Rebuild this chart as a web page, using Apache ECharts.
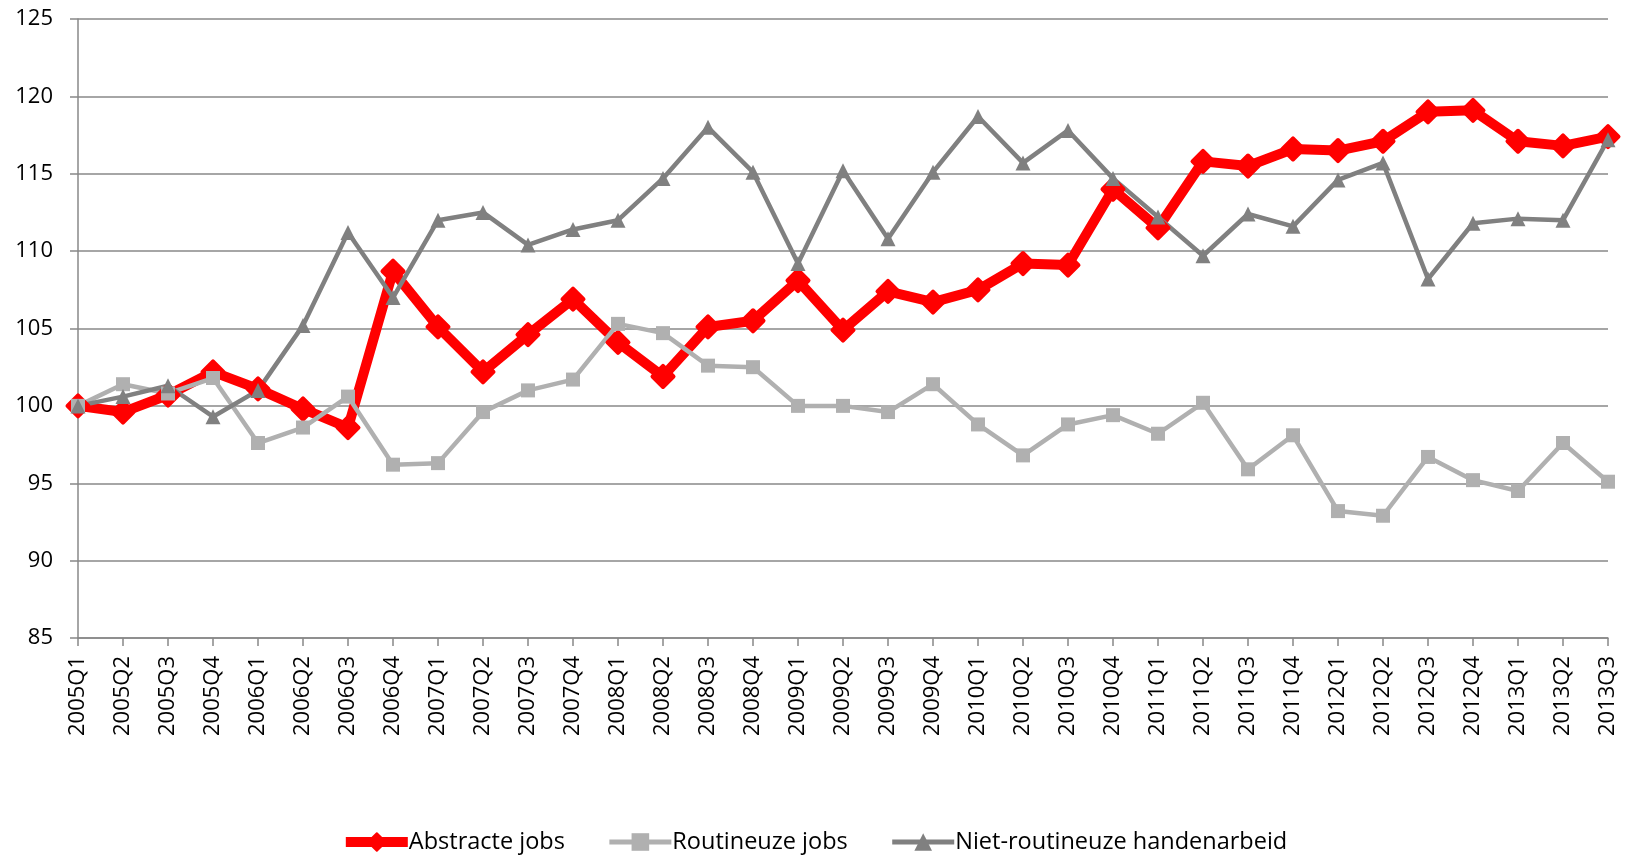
<!DOCTYPE html>
<html>
<head>
<meta charset="utf-8">
<title>Banen naar type</title>
<script src="https://cdn.jsdelivr.net/npm/echarts@6/dist/echarts.min.js"></script>
<style>
html, body { margin: 0; padding: 0; background: #fff; }
#main { width: 1628px; height: 856px; }
</style>
</head>
<body>
<div id="main"></div>
<script>
// kwartalen
var quarters = ['2005Q1','2005Q2','2005Q3','2005Q4','2006Q1','2006Q2','2006Q3','2006Q4',
  '2007Q1','2007Q2','2007Q3','2007Q4','2008Q1','2008Q2','2008Q3','2008Q4',
  '2009Q1','2009Q2','2009Q3','2009Q4','2010Q1','2010Q2','2010Q3','2010Q4',
  '2011Q1','2011Q2','2011Q3','2011Q4','2012Q1','2012Q2','2012Q3','2012Q4',
  '2013Q1','2013Q2','2013Q3'];

var abstracteJobs = [100, 99.6, 100.7, 102.2, 101.1, 99.8, 98.6, 108.7,
  105.1, 102.2, 104.6, 106.9, 104.1, 101.9, 105.1, 105.5,
  108.1, 104.9, 107.4, 106.7, 107.5, 109.2, 109.1, 114.0,
  111.5, 115.8, 115.5, 116.6, 116.5, 117.1, 119.0, 119.1,
  117.1, 116.8, 117.4];

var routineuzeJobs = [100, 101.4, 100.8, 101.8, 97.6, 98.6, 100.6, 96.2,
  96.3, 99.6, 101.0, 101.7, 105.3, 104.7, 102.6, 102.5,
  100.0, 100.0, 99.6, 101.4, 98.8, 96.8, 98.8, 99.4,
  98.2, 100.2, 95.9, 98.1, 93.2, 92.9, 96.7, 95.2,
  94.5, 97.6, 95.1];

var nietRoutineuze = [100, 100.6, 101.3, 99.3, 101.0, 105.2, 111.2, 107.0,
  112.0, 112.5, 110.4, 111.4, 112.0, 114.7, 118.0, 115.1,
  109.2, 115.2, 110.8, 115.1, 118.7, 115.7, 117.8, 114.7,
  112.2, 109.7, 112.4, 111.6, 114.6, 115.7, 108.2, 111.8,
  112.1, 112.0, 117.2];

var yTicks = { min: 85, max: 125, step: 5 };

var font = '"Open Sans", "DejaVu Sans", sans-serif';
var gridColor = '#888888';

var chart = echarts.init(document.getElementById('main'));
chart.setOption({
  animation: false,
  textStyle: { fontFamily: font },
  grid: { left: 78, right: 20, top: 19, bottom: 218, containLabel: false },
  legend: {
    top: 825,
    left: 'center',
    itemWidth: 62,
    itemHeight: 22,
    itemGap: 42,
    textStyle: { fontSize: 23.5, color: '#000', fontFamily: font, padding: [0, 0, 0, -4] },
    data: [
      { name: 'Abstracte jobs', lineStyle: { width: 10 } },
      { name: 'Routineuze jobs', lineStyle: { width: 5 } },
      { name: 'Niet-routineuze handenarbeid', lineStyle: { width: 5 } }
    ]
  },
  xAxis: {
    type: 'category',
    data: quarters,
    boundaryGap: false,
    axisLine: { lineStyle: { color: gridColor, width: 1.5 } },
    axisTick: { show: true, length: 8, alignWithLabel: true, lineStyle: { color: gridColor, width: 1.5 } },
    axisLabel: { rotate: 90, interval: 0, margin: 18, fontSize: 22, color: '#000', fontFamily: font }
  },
  yAxis: {
    type: 'value',
    min: yTicks.min,
    max: yTicks.max,
    interval: yTicks.step,
    axisLine: { show: true, lineStyle: { color: gridColor, width: 1.5 } },
    axisTick: { show: true, length: 8, lineStyle: { color: gridColor, width: 1.5 } },
    axisLabel: { margin: 25, fontSize: 22, color: '#000', fontFamily: font },
    splitLine: { show: true, lineStyle: { color: gridColor, width: 1.5 } }
  },
  series: [
    {
      name: 'Abstracte jobs',
      type: 'line',
      data: abstracteJobs,
      symbol: 'diamond',
      symbolSize: 21,
      lineStyle: { color: '#ff0000', width: 10, join: 'round' },
      itemStyle: { color: '#ff0000', borderColor: '#ff0000', borderWidth: 4, borderJoin: 'round' }
    },
    {
      name: 'Routineuze jobs',
      type: 'line',
      data: routineuzeJobs,
      symbol: 'rect',
      symbolSize: 14,
      lineStyle: { color: '#b0b0b0', width: 4.5 },
      itemStyle: { color: '#b0b0b0' }
    },
    {
      name: 'Niet-routineuze handenarbeid',
      type: 'line',
      data: nietRoutineuze,
      symbol: 'triangle',
      symbolSize: 15,
      lineStyle: { color: '#808080', width: 4.5 },
      itemStyle: { color: '#808080' }
    }
  ]
});
</script>
</body>
</html>
